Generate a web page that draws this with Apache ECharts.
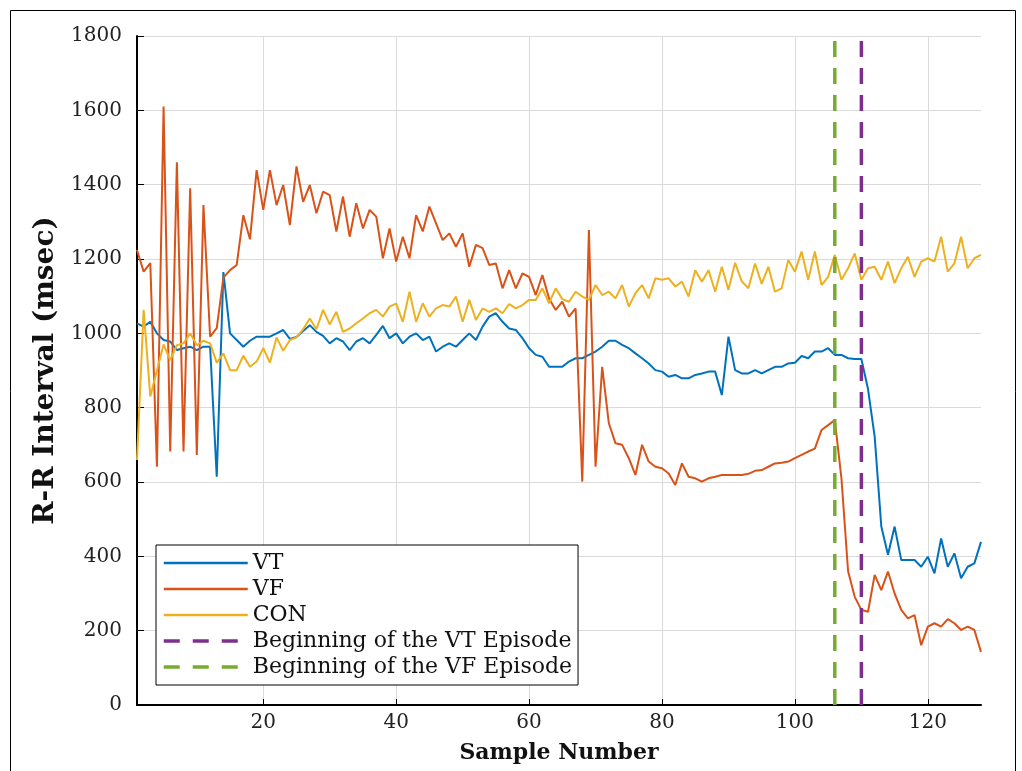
<!DOCTYPE html>
<html>
<head>
<meta charset="utf-8">
<script src="https://cdn.jsdelivr.net/npm/echarts@6/dist/echarts.min.js"></script>
<style>
html,body{margin:0;padding:0;background:#fff;}
#chart{width:1022px;height:771px;}
</style>
</head>
<body>
<div id="chart"></div>
<script>
// ---- data ----
const xTickValues = [20, 40, 60, 80, 100, 120];
const yTickInterval = 200;
const xMin = 1, xMax = 128;
const yMin = 0, yMax = 1800;

const vtValues = [1027,1018,1031,1000,982,978,955,960,964,955,
964,964,614,1165,1000,982,964,980,991,991,
991,1000,1009,985,990,1006,1022,1004,993,973,
987,978,955,978,987,973,996,1020,987,1000,
973,991,1000,982,991,951,964,973,964,982,
1000,982,1018,1045,1054,1031,1013,1009,987,960,
942,937,910,910,910,924,933,933,942,951,
964,980,980,969,960,946,933,919,901,897,
883,888,879,879,888,892,897,897,834,991,
901,892,892,901,892,901,910,910,919,921,
939,933,951,951,960,942,942,933,931,931,
850,722,480,404,480,390,390,390,372,399,
354,448,372,408,341,372,381,439];

const vfValues = [1224,1166,1189,641,1610,682,1460,682,1390,673,
1345,991,1014,1150,1170,1184,1318,1253,1439,1332,
1439,1345,1399,1291,1449,1354,1399,1323,1381,1372,
1274,1368,1260,1350,1282,1332,1314,1202,1282,1193,
1260,1202,1318,1274,1341,1296,1251,1269,1233,1269,
1179,1238,1229,1184,1188,1121,1170,1121,1161,1152,
1103,1157,1094,1063,1085,1045,1067,601,1278,641,
910,758,704,700,664,619,700,655,641,637,
623,592,650,614,610,601,610,614,619,619,
619,619,622,630,632,641,650,652,655,664,
673,682,690,740,753,767,610,360,291,256,
251,350,309,359,300,256,233,242,161,211,
220,211,231,220,202,211,202,143];

const conValues = [659,1063,830,900,970,928,968,973,1000,968,
980,973,921,946,901,901,940,910,924,960,
921,989,953,982,989,1011,1040,1011,1063,1024,
1058,1004,1013,1027,1040,1054,1063,1045,1072,1080,
1031,1112,1031,1081,1045,1067,1076,1072,1099,1031,
1090,1036,1067,1058,1067,1054,1079,1067,1076,1090,
1090,1121,1081,1121,1092,1085,1112,1099,1090,1130,
1103,1112,1094,1130,1072,1108,1130,1094,1148,1144,
1148,1126,1139,1099,1170,1139,1170,1112,1179,1117,
1190,1140,1121,1188,1133,1179,1112,1121,1197,1166,
1220,1144,1220,1130,1152,1211,1144,1175,1215,1144,
1175,1179,1144,1193,1135,1175,1206,1152,1193,1202,
1193,1260,1166,1188,1260,1175,1202,1211];

const vtEpisodeStart = 110;
const vfEpisodeStart = 106;

const seriesNames = ['VT', 'VF', 'CON', 'Beginning of the VT Episode', 'Beginning of the VF Episode'];
const seriesColors = ['#0072BD', '#D95319', '#EDB120', '#7E2F8E', '#77AC30'];

// ---- build ----
function toPairs(arr) { return arr.map((v, i) => [i + 1, v]); }

const FONT = 'DejaVu Serif';
const DASH = [16, 11];
const chart = echarts.init(document.getElementById('chart'), null, {renderer: 'canvas'});

function dataLine(name, values, color) {
  return {
    name: name, type: 'line', data: toPairs(values),
    showSymbol: false, symbol: 'none', animation: false,
    lineStyle: {color: color, width: 2}, itemStyle: {color: color},
    emphasis: {disabled: true}
  };
}
function vLine(name, xVal, color) {
  return {
    name: name, type: 'line', data: [[xVal, yMin], [xVal, yMax]],
    showSymbol: false, symbol: 'none', animation: false, z: 5,
    lineStyle: {color: color, width: 3.5, type: DASH}, itemStyle: {color: color},
    emphasis: {disabled: true}
  };
}

const legendData = seriesNames.map(function (n, i) {
  return {
    name: n,
    lineStyle: i < 3 ? {width: 2.5, color: seriesColors[i]} : {width: 3.5, color: seriesColors[i], type: [16, 13]}
  };
});

const option = {
  backgroundColor: '#fff',
  animation: false,
  graphic: [{
    type: 'rect', left: 8, top: 8, silent: true,
    shape: {width: 1005, height: 800},
    style: {fill: 'none', stroke: '#000', lineWidth: 1}
  }],
  grid: {left: 137, right: 41, top: 36, bottom: 66, containLabel: false},
  legend: {
    orient: 'vertical', left: 156, top: 545,
    data: legendData,
    itemWidth: 84, itemHeight: 14, itemGap: 4,
    padding: [7, 6, 7, 6],
    borderColor: '#000', borderWidth: 1, backgroundColor: '#fff',
    itemStyle: {opacity: 0, borderWidth: 0},
    textStyle: {fontFamily: FONT, fontSize: 22, color: '#111', lineHeight: 22},
    selectedMode: false
  },
  xAxis: {
    type: 'value', min: xMin, max: xMax,
    name: 'Sample Number', nameLocation: 'middle', nameGap: 37,
    nameTextStyle: {fontFamily: FONT, fontSize: 22, fontWeight: 'bold', color: '#111'},
    axisLine: {show: true, onZero: false, lineStyle: {color: '#000', width: 2}},
    axisTick: {show: true, inside: true, length: 6, customValues: xTickValues, lineStyle: {color: '#000', width: 1}},
    axisLabel: {customValues: xTickValues, margin: 8, fontFamily: FONT, fontSize: 20, color: '#222'},
    splitLine: {show: true, lineStyle: {color: '#dadada', width: 1}}
  },
  yAxis: {
    type: 'value', min: yMin, max: yMax, interval: yTickInterval,
    name: 'R-R Interval (msec)', nameLocation: 'middle', nameGap: 59, nameRotate: 90,
    nameTextStyle: {fontFamily: FONT, fontSize: 28, fontWeight: 'bold', color: '#111'},
    axisLine: {show: true, lineStyle: {color: '#000', width: 2}},
    axisTick: {show: true, inside: true, length: 7, lineStyle: {color: '#000', width: 1}},
    axisLabel: {margin: 15, fontFamily: FONT, fontSize: 20, color: '#222', formatter: function (v) { return String(v); }},
    splitLine: {show: true, lineStyle: {color: '#dadada', width: 1}}
  },
  series: [
    dataLine(seriesNames[0], vtValues, seriesColors[0]),
    dataLine(seriesNames[1], vfValues, seriesColors[1]),
    dataLine(seriesNames[2], conValues, seriesColors[2]),
    vLine(seriesNames[3], vtEpisodeStart, seriesColors[3]),
    vLine(seriesNames[4], vfEpisodeStart, seriesColors[4])
  ]
};
chart.setOption(option);
</script>
</body>
</html>
